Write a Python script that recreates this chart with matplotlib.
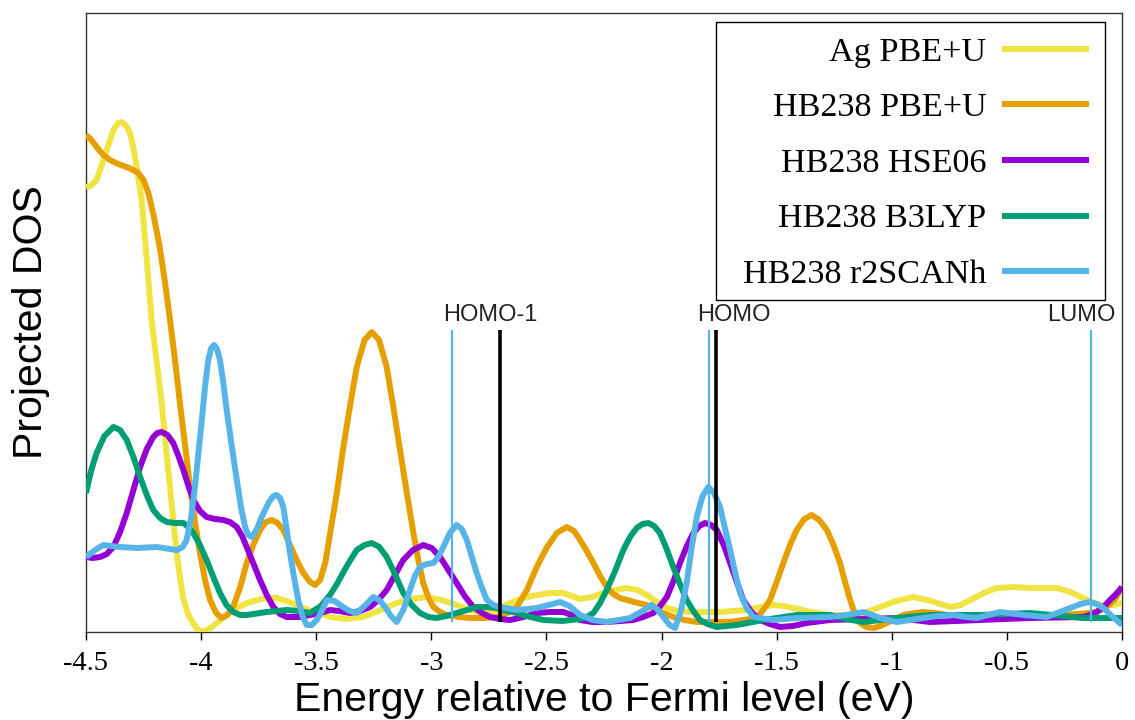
import matplotlib
matplotlib.use("Agg")
import matplotlib.pyplot as plt
from matplotlib.patches import Rectangle

plt.rcParams['axes.unicode_minus'] = False

# projected DOS curves (energy in eV, DOS in arbitrary units)
ag_pbeu_e = [-4.50, -4.48, -4.454, -4.43, -4.410, -4.381, -4.36, -4.345, -4.325, -4.309,
             -4.295, -4.280, -4.258, -4.237, -4.215, -4.193, -4.171, -4.153, -4.135, -4.12,
             -4.106, -4.092, -4.079, -4.057, -4.035, -4.016, -3.997, -3.965, -3.932, -3.89,
             -3.845, -3.80, -3.758, -3.715, -3.672, -3.63, -3.585, -3.535, -3.483, -3.440,
             -3.37, -3.297, -3.22, -3.150, -3.085, -3.020, -2.955, -2.890, -2.83, -2.774,
             -2.715, -2.658, -2.60, -2.542, -2.485, -2.427, -2.354, -2.30, -2.253, -2.20,
             -2.151, -2.105, -2.064, -2.02, -1.977, -1.93, -1.876, -1.81, -1.746, -1.69,
             -1.630, -1.57, -1.514, -1.47, -1.427, -1.35, -1.268, -1.19, -1.123, -1.085,
             -1.051, -0.98, -0.906, -0.83, -0.747, -0.70, -0.660, -0.60, -0.544, -0.47,
             -0.399, -0.34, -0.283, -0.225, -0.168, -0.12, -0.081, -0.04, 0.0]
ag_pbeu_y = [4.45, 4.46, 4.52, 4.68, 4.82, 5.02, 5.09, 5.10, 5.06, 4.99,
             4.85, 4.65, 4.32, 3.75, 3.12, 2.70, 2.29, 1.85, 1.45, 1.10,
             0.79, 0.55, 0.35, 0.18, 0.09, 0.03, 0.00, 0.03, 0.09, 0.17,
             0.24, 0.29, 0.32, 0.34, 0.34, 0.31, 0.27, 0.22, 0.19, 0.15,
             0.13, 0.15, 0.22, 0.29, 0.33, 0.35, 0.32, 0.27, 0.22, 0.19,
             0.22, 0.29, 0.34, 0.37, 0.39, 0.39, 0.33, 0.35, 0.39, 0.42,
             0.44, 0.42, 0.37, 0.30, 0.24, 0.21, 0.20, 0.20, 0.20, 0.21,
             0.22, 0.25, 0.27, 0.26, 0.24, 0.20, 0.17, 0.17, 0.19, 0.22,
             0.25, 0.31, 0.35, 0.31, 0.25, 0.27, 0.32, 0.39, 0.44, 0.45,
             0.44, 0.44, 0.44, 0.40, 0.34, 0.29, 0.27, 0.27, 0.29]

hb_pbeu_e = [-4.50, -4.48, -4.454, -4.425, -4.396, -4.36, -4.323, -4.295, -4.273, -4.25,
             -4.229, -4.205, -4.179, -4.157, -4.135, -4.113, -4.092, -4.07, -4.048, -4.025,
             -4.005, -3.983, -3.961, -3.935, -3.911, -3.886, -3.861, -3.83, -3.802, -3.772,
             -3.744, -3.718, -3.693, -3.668, -3.643, -3.614, -3.585, -3.556, -3.527, -3.505,
             -3.483, -3.46, -3.440, -3.41, -3.384, -3.354, -3.324, -3.29, -3.259, -3.227,
             -3.194, -3.165, -3.136, -3.107, -3.078, -3.055, -3.035, -3.012, -2.991, -2.962,
             -2.933, -2.88, -2.832, -2.77, -2.716, -2.67, -2.629, -2.585, -2.542, -2.50,
             -2.455, -2.412, -2.38, -2.354, -2.325, -2.296, -2.267, -2.238, -2.21, -2.180,
             -2.12, -2.064, -2.005, -1.949, -1.90, -1.847, -1.77, -1.702, -1.645, -1.587,
             -1.558, -1.529, -1.50, -1.471, -1.442, -1.413, -1.38, -1.348, -1.315, -1.282,
             -1.253, -1.225, -1.203, -1.181, -1.16, -1.138, -1.11, -1.080, -1.05, -1.022,
             -0.985, -0.950, -0.90, -0.863, -0.81, -0.761, -0.69, -0.616, -0.54, -0.473,
             -0.36, -0.256, -0.139, -0.10, -0.066, -0.03, 0.0]
hb_pbeu_y = [4.97, 4.93, 4.85, 4.77, 4.72, 4.68, 4.65, 4.62, 4.59, 4.52,
             4.39, 4.15, 3.84, 3.50, 3.12, 2.71, 2.29, 1.87, 1.45, 1.08,
             0.79, 0.52, 0.32, 0.19, 0.14, 0.17, 0.25, 0.45, 0.69, 0.88,
             1.02, 1.10, 1.12, 1.09, 1.02, 0.87, 0.72, 0.59, 0.50, 0.47,
             0.52, 0.70, 0.98, 1.40, 1.82, 2.25, 2.65, 2.92, 3.00, 2.92,
             2.65, 2.25, 1.82, 1.40, 0.99, 0.70, 0.49, 0.34, 0.25, 0.20,
             0.17, 0.15, 0.14, 0.14, 0.15, 0.19, 0.25, 0.42, 0.65, 0.84,
             0.99, 1.05, 1.01, 0.92, 0.81, 0.69, 0.56, 0.45, 0.38, 0.34,
             0.30, 0.27, 0.20, 0.15, 0.12, 0.10, 0.10, 0.10, 0.12, 0.14,
             0.22, 0.32, 0.50, 0.69, 0.87, 1.02, 1.13, 1.17, 1.12, 1.02,
             0.87, 0.69, 0.50, 0.32, 0.18, 0.09, 0.05, 0.04, 0.06, 0.09,
             0.13, 0.17, 0.19, 0.20, 0.19, 0.17, 0.15, 0.14, 0.14, 0.15,
             0.16, 0.17, 0.19, 0.21, 0.25, 0.33, 0.45]

hb_hse_e = [-4.50, -4.47, -4.439, -4.41, -4.381, -4.352, -4.323, -4.294, -4.265, -4.236,
            -4.208, -4.19, -4.171, -4.146, -4.121, -4.10, -4.077, -4.055, -4.034, -4.005,
            -3.976, -3.94, -3.904, -3.875, -3.845, -3.822, -3.802, -3.772, -3.744, -3.715,
            -3.686, -3.657, -3.628, -3.570, -3.483, -3.440, -3.40, -3.353, -3.31, -3.266,
            -3.23, -3.194, -3.158, -3.122, -3.08, -3.035, -2.998, -2.962, -2.926, -2.890,
            -2.855, -2.818, -2.78, -2.745, -2.70, -2.658, -2.60, -2.542, -2.485, -2.427,
            -2.39, -2.354, -2.30, -2.238, -2.18, -2.122, -2.08, -2.036, -2.006, -1.977,
            -1.948, -1.920, -1.89, -1.862, -1.836, -1.811, -1.785, -1.760, -1.73, -1.702,
            -1.673, -1.645, -1.61, -1.572, -1.53, -1.485, -1.43, -1.370, -1.268, -1.12,
            -0.978, -0.834, -0.616, -0.399, -0.169, -0.14, -0.110, -0.08, -0.052, -0.025,
            0.0]
hb_hse_y = [0.75, 0.74, 0.75, 0.78, 0.85, 1.00, 1.19, 1.42, 1.65, 1.83,
            1.95, 1.99, 2.00, 1.97, 1.89, 1.77, 1.62, 1.46, 1.32, 1.21,
            1.15, 1.13, 1.12, 1.10, 1.05, 0.96, 0.85, 0.68, 0.52, 0.37,
            0.25, 0.18, 0.15, 0.15, 0.19, 0.22, 0.21, 0.19, 0.21, 0.25,
            0.32, 0.42, 0.57, 0.72, 0.82, 0.87, 0.84, 0.75, 0.62, 0.49,
            0.36, 0.25, 0.19, 0.15, 0.13, 0.12, 0.15, 0.19, 0.20, 0.20,
            0.17, 0.12, 0.10, 0.10, 0.11, 0.12, 0.15, 0.19, 0.26, 0.35,
            0.51, 0.69, 0.86, 0.99, 1.06, 1.09, 1.07, 1.02, 0.87, 0.69,
            0.50, 0.32, 0.20, 0.12, 0.08, 0.05, 0.06, 0.09, 0.12, 0.13,
            0.14, 0.10, 0.12, 0.14, 0.15, 0.17, 0.20, 0.25, 0.32, 0.38,
            0.45]

hb_b3lyp_e = [-4.50, -4.477, -4.454, -4.42, -4.381, -4.352, -4.323, -4.294, -4.265, -4.236,
              -4.208, -4.178, -4.149, -4.113, -4.077, -4.055, -4.034, -4.005, -3.976, -3.947,
              -3.918, -3.89, -3.860, -3.83, -3.802, -3.715, -3.628, -3.575, -3.527, -3.48,
              -3.440, -3.41, -3.384, -3.354, -3.324, -3.29, -3.259, -3.226, -3.194, -3.158,
              -3.122, -3.085, -3.049, -3.013, -2.977, -2.935, -2.890, -2.845, -2.803, -2.76,
              -2.716, -2.67, -2.629, -2.57, -2.513, -2.43, -2.354, -2.325, -2.296, -2.267,
              -2.238, -2.20, -2.166, -2.137, -2.108, -2.083, -2.057, -2.032, -2.007, -1.978,
              -1.949, -1.92, -1.891, -1.862, -1.833, -1.80, -1.760, -1.673, -1.558, -1.413,
              -1.268, -1.20, -1.123, -0.978, -0.834, -0.616, -0.399, -0.169, 0.0]
hb_b3lyp_y = [1.39, 1.62, 1.79, 1.96, 2.05, 2.02, 1.92, 1.75, 1.55, 1.37,
              1.22, 1.14, 1.10, 1.09, 1.09, 1.05, 0.99, 0.87, 0.72, 0.55,
              0.39, 0.27, 0.20, 0.17, 0.17, 0.20, 0.22, 0.21, 0.19, 0.26,
              0.37, 0.48, 0.59, 0.71, 0.82, 0.87, 0.89, 0.85, 0.75, 0.58,
              0.39, 0.27, 0.19, 0.15, 0.14, 0.16, 0.19, 0.22, 0.25, 0.25,
              0.24, 0.21, 0.19, 0.15, 0.12, 0.11, 0.13, 0.15, 0.19, 0.29,
              0.42, 0.62, 0.82, 0.95, 1.04, 1.08, 1.09, 1.06, 0.99, 0.83,
              0.65, 0.48, 0.32, 0.21, 0.12, 0.08, 0.05, 0.07, 0.12, 0.17,
              0.17, 0.13, 0.10, 0.14, 0.17, 0.17, 0.19, 0.14, 0.14]

hb_r2scan_e = [-4.50, -4.46, -4.425, -4.352, -4.280, -4.193, -4.106, -4.08, -4.063, -4.045,
               -4.027, -4.012, -3.997, -3.983, -3.969, -3.956, -3.944, -3.931, -3.918, -3.904,
               -3.889, -3.867, -3.845, -3.827, -3.809, -3.795, -3.780, -3.758, -3.737, -3.705,
               -3.686, -3.672, -3.657, -3.643, -3.628, -3.614, -3.596, -3.578, -3.56, -3.541,
               -3.52, -3.498, -3.476, -3.454, -3.42, -3.384, -3.354, -3.324, -3.29, -3.252,
               -3.226, -3.201, -3.175, -3.150, -3.12, -3.093, -3.07, -3.049, -3.02, -2.991,
               -2.97, -2.948, -2.92, -2.890, -2.868, -2.846, -2.825, -2.803, -2.78, -2.759,
               -2.73, -2.702, -2.629, -2.542, -2.49, -2.441, -2.40, -2.354, -2.30, -2.238,
               -2.137, -2.09, -2.043, -2.02, -1.992, -1.965, -1.941, -1.915, -1.891, -1.87,
               -1.847, -1.822, -1.797, -1.772, -1.746, -1.725, -1.702, -1.68, -1.659, -1.63,
               -1.601, -1.514, -1.413, -1.268, -1.195, -1.123, -1.085, -1.051, -0.978, -0.92,
               -0.863, -0.80, -0.732, -0.68, -0.631, -0.58, -0.530, -0.428, -0.327, -0.225,
               -0.18, -0.139, -0.11, -0.081, -0.04, 0.0]
hb_r2scan_y = [0.75, 0.82, 0.87, 0.85, 0.84, 0.85, 0.82, 0.85, 0.92, 1.12,
               1.45, 1.78, 2.12, 2.45, 2.72, 2.84, 2.87, 2.83, 2.72, 2.50,
               2.22, 1.86, 1.52, 1.25, 1.05, 0.97, 0.95, 1.03, 1.15, 1.30,
               1.36, 1.37, 1.34, 1.25, 1.02, 0.79, 0.54, 0.32, 0.16, 0.07,
               0.07, 0.12, 0.21, 0.32, 0.31, 0.25, 0.21, 0.19, 0.26, 0.35,
               0.32, 0.25, 0.16, 0.10, 0.23, 0.42, 0.57, 0.65, 0.68, 0.69,
               0.75, 0.85, 0.99, 1.07, 1.03, 0.92, 0.76, 0.59, 0.44, 0.32,
               0.27, 0.25, 0.22, 0.24, 0.27, 0.30, 0.26, 0.17, 0.12, 0.10,
               0.14, 0.20, 0.27, 0.23, 0.15, 0.07, 0.04, 0.22, 0.49, 0.83,
               1.15, 1.36, 1.45, 1.39, 1.25, 1.04, 0.82, 0.59, 0.39, 0.24,
               0.15, 0.12, 0.14, 0.15, 0.17, 0.20, 0.17, 0.14, 0.10, 0.12,
               0.14, 0.16, 0.17, 0.15, 0.14, 0.17, 0.20, 0.17, 0.15, 0.24,
               0.28, 0.30, 0.28, 0.24, 0.15, 0.07]

series_labels = ["Ag PBE+U", "HB238 PBE+U", "HB238 HSE06", "HB238 B3LYP", "HB238 r2SCANh"]
series_colors = ["#f0e442", "#e69f00", "#9400d3", "#009e73", "#56b4e9"]

# orbital energies (eV)
level_names = ["HOMO-1", "HOMO", "LUMO"]
level_label_x = [-2.745, -1.687, -0.176]
blue_levels = [-2.91, -1.795, -0.135]
black_levels = [-2.70, -1.765]
level_bottom = 0.10
level_top = 3.02

xticks = [-4.5, -4, -3.5, -3, -2.5, -2, -1.5, -1, -0.5, 0]
xtick_labels = ["-4.5", "-4", "-3.5", "-3", "-2.5", "-2", "-1.5", "-1", "-0.5", "0"]

W, H = 1135, 720
fig = plt.figure(figsize=(W / 100, H / 100), dpi=100)
ax = fig.add_axes([86 / W, 1 - 632 / H, 1036 / W, 619 / H])

curves = [(ag_pbeu_e, ag_pbeu_y), (hb_pbeu_e, hb_pbeu_y), (hb_hse_e, hb_hse_y),
          (hb_b3lyp_e, hb_b3lyp_y), (hb_r2scan_e, hb_r2scan_y)]
handles = []
for (xs, ys), lab, col in zip(curves, series_labels, series_colors):
    h, = ax.plot(xs, ys, color=col, lw=4.3, label=lab, solid_joinstyle='round',
                 solid_capstyle='butt', zorder=3)
    handles.append(h)

ax.vlines(blue_levels, level_bottom, level_top, color="#56b4e9", lw=1.6, zorder=4)
ax.vlines(black_levels, level_bottom, level_top, color="black", lw=2.6, zorder=4)
for name, xl in zip(level_names, level_label_x):
    ax.text(xl, 3.17, name, ha='center', va='center', fontsize=17,
            family='Liberation Sans', color='#222222')

ax.set_xlim(-4.5, 0)
ax.set_ylim(0, 6.19)
ax.set_xticks(xticks)
ax.set_xticklabels(xtick_labels, family='Liberation Serif', fontsize=20.5)
ax.set_yticks([])
ax.tick_params(axis='x', direction='out', length=6, width=1, pad=8)
for sp in ax.spines.values():
    sp.set_linewidth(1.0)
    sp.set_color('#333333')

ax.set_xlabel("Energy relative to Fermi level (eV)", family='Liberation Sans',
              fontsize=29.5, labelpad=3)
ax.set_ylabel("Projected DOS", family='Liberation Sans', fontsize=29.5, labelpad=26)

# legend: text left of the line, in a plain box
leg = ax.legend(handles=handles, loc='upper right',
                bbox_to_anchor=(1089 / W, 1 - 37 / H), bbox_transform=fig.transFigure,
                markerfirst=False, frameon=False,
                prop={'family': 'Liberation Serif', 'size': 24.6},
                handlelength=2.55, handletextpad=0.45, labelspacing=0.72,
                borderpad=0, borderaxespad=0)
fig.add_artist(Rectangle((716 / W, 1 - 300 / H), 389 / W, 278 / H, transform=fig.transFigure,
                         fill=False, edgecolor='black', lw=1.0, zorder=5))

fig.savefig("out.png", dpi=100)
